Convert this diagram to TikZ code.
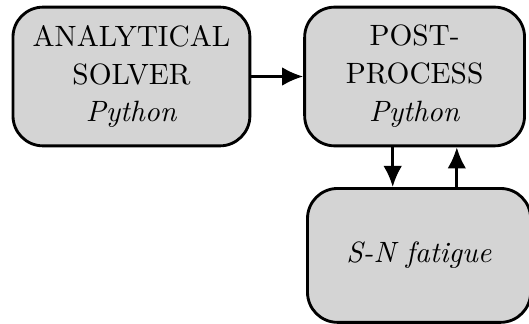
\documentclass[tikz,border=0pt]{standalone}
\usepackage{xcolor}
\usepackage{tikz}
\usetikzlibrary{positioning,arrows.meta}

\begin{document}
\begin{tikzpicture}[
    every node/.style={font=\fontsize{10.3pt}{13.3pt}\selectfont},
    block/.style={draw, line width=1pt, fill=black!17, rounded corners=0.37cm,
                  align=center, inner sep=0pt},
    link/.style={-{Latex[length=2.6mm,width=2.3mm]}, line width=1pt}]
   % fixed frame
   \useasboundingbox (-1.62,0.943) rectangle (4.90,-3.04);
    % Blocks
    \node[block, minimum width=2.92cm, minimum height=1.71cm] (solver)
        {ANALYTICAL\\SOLVER\\\textit{Python}};
    \node[block, minimum width=2.71cm, minimum height=1.71cm, right=0.64cm of solver] (post)
        {POST-\\PROCESS\\\textit{Python}};
    \node[block, minimum width=2.75cm, minimum height=1.65cm, below=0.49cm of post, xshift=0.055cm] (fatigue)
        {\textit{S-N fatigue}};

    % Links
    \draw[link] (solver) -- (post);
    \draw[link] ([xshift=-0.27cm]post.south) -- ([xshift=-0.27cm]post.south |- fatigue.north);
    \draw[link] ([xshift=0.52cm]post.south |- fatigue.north) -- ([xshift=0.52cm]post.south);
\end{tikzpicture}
\end{document}
